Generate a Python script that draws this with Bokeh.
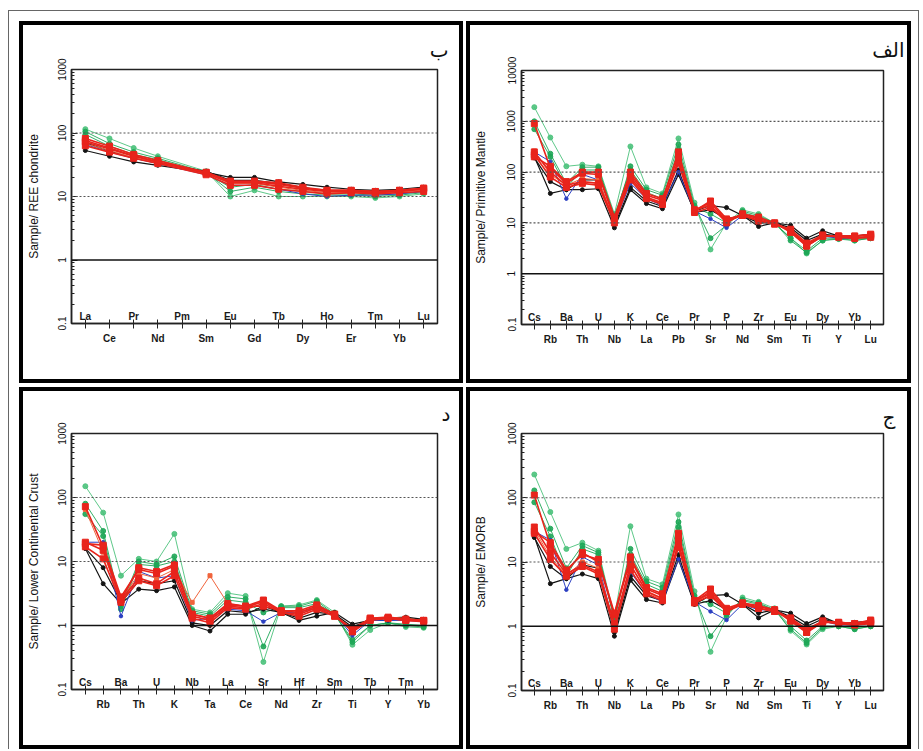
from bokeh.plotting import figure
from bokeh.layouts import row, column
from bokeh.models import FixedTicker, Span, LabelSet, ColumnDataSource, Range1d
from bokeh.embed import file_html
from bokeh.resources import INLINE
from bokeh.core.properties import value

# ---------------- categories ----------------
ree_elements = ["La", "Ce", "Pr", "Nd", "Pm", "Sm", "Eu", "Gd", "Tb", "Dy", "Ho", "Er", "Tm", "Yb", "Lu"]
ree_measured = ["La", "Ce", "Pr", "Nd", "Sm", "Eu", "Gd", "Tb", "Dy", "Ho", "Er", "Tm", "Yb", "Lu"]
pm_elements = ["Cs", "Rb", "Ba", "Th", "U", "Nb", "K", "La", "Ce", "Pb", "Pr", "Sr", "P", "Nd", "Zr",
               "Sm", "Eu", "Ti", "Dy", "Y", "Yb", "Lu"]
lcc_elements = ["Cs", "Rb", "Ba", "Th", "U", "K", "Nb", "Ta", "La", "Ce", "Sr", "Nd", "Hf", "Zr", "Sm",
                "Ti", "Tb", "Y", "Tm", "Yb"]
emorb_elements = ["Cs", "Rb", "Ba", "Th", "U", "Nb", "K", "La", "Ce", "Pb", "Pr", "Sr", "P", "Nd", "Zr",
                  "Sm", "Eu", "Ti", "Dy", "Y", "Yb", "Lu"]

# ---------------- REE / chondrite (ب) ----------------
ree_green_1 = [115, 82, 58, 43, 25, 10, 12.5, 10, 10, 10, 10, 9.5, 10, 11]
ree_green_2 = [105, 68, 50, 40, 24, 12, 14, 12, 11, 10.5, 10.5, 10, 10.5, 11.5]
ree_green_3 = [95, 62, 46, 38, 23, 14, 15.5, 13, 12, 11, 11, 10.5, 11, 12]
ree_black_1 = [53, 43, 35, 31, 24, 20, 20, 17, 15.5, 14, 13, 12.5, 13, 14]
ree_black_2 = [70, 52, 40, 34, 25, 18, 18, 16, 14, 12, 12, 12, 12.5, 13]
ree_blue = [66, 50, 40, 33, 22, 15, 15, 13, 11, 10, 10.5, 10.5, 11, 12]
ree_orange = [68, 53, 41, 34, 23, 16, 16, 14, 12.5, 11.5, 11.5, 11.5, 12, 12.5]
ree_red_1 = [82, 62, 46, 37, 24, 17, 17, 15.5, 13.5, 12.5, 12.5, 12, 12.5, 13.5]
ree_red_2 = [72, 56, 43, 35, 23, 16.5, 16.5, 14.5, 13, 12, 12, 11.5, 12, 13]
ree_red_3 = [63, 50, 40, 33, 22, 15, 15, 13, 12, 11, 11.5, 11, 11.5, 12]
ree_red_4 = [76, 58, 44, 35, 24, 17.5, 17.5, 16.5, 14, 12.5, 12.5, 12, 12.5, 13.5]

# ---------------- Primitive mantle (الف) ----------------
pm_green_1 = [1900, 480, 130, 140, 130, 15, 320, 50, 38, 460, 25, 3, 10, 18, 15, 10, 5, 2.5, 4.5, 5, 4.5, 5]
pm_green_2 = [1000, 230, 60, 125, 125, 12, 130, 45, 35, 350, 22, 5, 9, 17, 14, 10, 4.5, 2.6, 4.5, 4.8, 4.5, 5]
pm_green_3 = [700, 200, 50, 110, 110, 14, 110, 40, 30, 280, 20, 15, 10, 16, 13, 10, 5, 2.8, 5, 5, 4.8, 5]
pm_black_1 = [200, 38, 45, 45, 47, 8, 45, 24, 19, 90, 17, 22, 20, 14, 8.5, 10, 9, 5, 7, 5.5, 5.5, 6]
pm_black_2 = [190, 65, 45, 70, 70, 9, 50, 27, 21, 110, 16, 18, 12, 14, 10, 10, 8, 4.5, 6, 5.5, 5.5, 5.8]
pm_blue = [250, 160, 30, 90, 70, 10, 60, 30, 22, 100, 17, 12, 8, 14, 11, 10, 7, 3.5, 5.5, 5, 5, 5.5]
pm_orange = [260, 90, 55, 75, 70, 11, 75, 31, 24, 160, 17, 24, 11, 14, 11.5, 9.5, 7, 3.7, 5.6, 5.3, 5.1, 5.4]
pm_red_1 = [900, 120, 60, 95, 90, 12, 90, 35, 28, 250, 18, 25, 11, 15, 12, 10, 7, 3.5, 5.5, 5.5, 5.5, 5.8]
pm_red_2 = [250, 100, 55, 65, 60, 11, 80, 32, 25, 170, 17, 27, 12, 14, 11, 9.5, 7, 3.8, 5.5, 5.5, 5, 5.5]
pm_red_3 = [220, 80, 50, 60, 55, 10, 70, 30, 23, 150, 16, 20, 11, 14, 11, 9.5, 7.5, 4, 5.8, 5.2, 5, 5.2]
pm_red_4 = [200, 130, 65, 100, 100, 13, 100, 38, 30, 200, 18, 22, 10, 15, 13, 10, 6.5, 3.5, 5.5, 5.5, 5.5, 6]

# ---------------- Lower continental crust (د) ----------------
lcc_green_1 = [150, 58, 6, 11, 10, 27, 1.8, 1.6, 3.2, 2.9, 0.27, 2.0, 2.1, 2.5, 1.6, 0.5, 0.85, 1.1, 0.95, 0.92]
lcc_green_2 = [80, 30, 2.0, 10, 9, 12, 1.7, 1.5, 2.8, 2.6, 0.47, 2.0, 2.0, 2.4, 1.5, 0.55, 1.0, 1.1, 1.0, 0.95]
lcc_green_3 = [55, 25, 1.8, 9, 8.5, 10, 1.6, 1.4, 2.5, 2.3, 1.6, 1.9, 1.9, 2.2, 1.5, 0.6, 1.0, 1.1, 1.05, 1.0]
lcc_black_1 = [16, 4.5, 2.2, 3.7, 3.5, 4, 1.0, 0.82, 1.5, 1.5, 2.0, 1.6, 1.2, 1.4, 1.6, 1.05, 1.2, 1.3, 1.35, 1.25]
lcc_black_2 = [16, 8, 2.3, 5, 4.5, 5, 1.1, 1.0, 1.7, 1.6, 1.8, 1.6, 1.3, 1.6, 1.5, 0.95, 1.2, 1.2, 1.3, 1.2]
lcc_blue = [20, 20, 1.4, 7, 5.5, 6, 1.2, 1.3, 1.8, 1.7, 1.15, 1.6, 1.6, 1.9, 1.5, 0.7, 1.2, 1.2, 1.2, 1.15]
lcc_orange = [65, 14, 2.4, 6.5, 5.5, 7.5, 2.3, 6.0, 2.2, 2.0, 2.3, 1.7, 1.6, 2.0, 1.5, 0.8, 1.3, 1.35, 1.3, 1.2]
lcc_red_1 = [72, 17, 2.5, 8, 7, 9, 1.5, 1.3, 2.2, 2.0, 2.5, 1.7, 1.6, 2.0, 1.5, 0.8, 1.3, 1.35, 1.25, 1.2]
lcc_red_2 = [20, 15, 2.5, 5.5, 4.5, 7, 1.4, 1.2, 2.0, 1.9, 2.4, 1.6, 1.5, 1.9, 1.4, 0.85, 1.3, 1.3, 1.25, 1.2]
lcc_red_3 = [17, 11, 2.3, 5, 4.2, 6, 1.3, 1.1, 1.9, 1.8, 2.2, 1.6, 1.4, 1.8, 1.4, 0.9, 1.25, 1.3, 1.2, 1.15]
lcc_red_4 = [19, 18, 2.8, 7.5, 6.5, 8.5, 1.5, 1.3, 2.1, 2.0, 2.0, 1.7, 1.7, 2.1, 1.5, 0.8, 1.2, 1.3, 1.2, 1.2]

# ---------------- E-MORB (ج) ----------------
emorb_green_1 = [230, 60, 16, 20, 15, 1.4, 36, 5.5, 4.5, 55, 3.5, 0.4, 1.4, 2.8, 2.4, 1.9, 0.85, 0.52, 0.9, 1.0, 0.9, 1.0]
emorb_green_2 = [130, 33, 8, 18, 14, 1.2, 16, 5, 4, 42, 3, 0.7, 1.5, 2.6, 2.3, 1.8, 0.9, 0.55, 0.95, 1.0, 0.9, 1.0]
emorb_green_3 = [85, 25, 6, 16, 13, 1.3, 13, 4.5, 3.5, 35, 2.8, 2.2, 1.6, 2.5, 2.2, 1.8, 1.0, 0.6, 1.0, 1.0, 0.95, 1.0]
emorb_black_1 = [25, 4.6, 5.5, 6.5, 5.5, 0.7, 5.2, 2.6, 2.3, 11, 2.2, 3.0, 3.1, 2.2, 1.35, 1.8, 1.6, 1.1, 1.4, 1.1, 1.15, 1.2]
emorb_black_2 = [24, 8.5, 5.5, 9, 8, 0.8, 6, 3, 2.5, 13, 2.2, 2.5, 1.8, 2.2, 1.6, 1.8, 1.4, 1.0, 1.3, 1.1, 1.1, 1.15]
emorb_blue = [30, 22, 3.7, 12, 9, 1.0, 7, 3.2, 2.4, 11, 2.4, 1.7, 1.25, 2.2, 1.8, 1.8, 1.3, 0.8, 1.2, 1.05, 1.05, 1.15]
emorb_orange = [32, 12, 6.2, 10, 8, 1.0, 9, 3.4, 2.6, 19, 2.3, 3.3, 1.8, 2.2, 1.9, 1.7, 1.3, 0.85, 1.2, 1.1, 1.05, 1.1]
emorb_red_1 = [110, 18, 7, 14, 10, 1.5, 11, 3.8, 3, 28, 2.5, 3.8, 1.9, 2.3, 2.0, 1.8, 1.3, 0.8, 1.2, 1.15, 1.1, 1.2]
emorb_red_2 = [35, 14, 6.5, 9, 7, 1.1, 9, 3.5, 2.7, 20, 2.4, 3.5, 1.8, 2.2, 1.9, 1.7, 1.3, 0.85, 1.2, 1.1, 1.05, 1.15]
emorb_red_3 = [28, 11, 6, 8.5, 6.5, 0.9, 7.5, 3.2, 2.5, 17, 2.3, 3, 1.7, 2.2, 1.9, 1.7, 1.35, 0.9, 1.2, 1.1, 1.05, 1.1]
emorb_red_4 = [30, 20, 7.5, 13, 11, 1.6, 12, 4, 3.2, 25, 2.5, 3.2, 1.7, 2.3, 2.1, 1.8, 1.2, 0.8, 1.15, 1.15, 1.1, 1.25]

# ---------------- styles ----------------
STYLE = {
    "lightgreen": dict(color="#4cc27c", marker="circle", size=5, lw=1.0, alpha=0.9),
    "green": dict(color="#1ea657", marker="circle", size=5, lw=1.0, alpha=0.9),
    "black": dict(color="#141414", marker="circle", size=4, lw=1.2, alpha=1.0),
    "blue": dict(color="#2b3fc2", marker="circle", size=3.5, lw=1.0, alpha=1.0),
    "orange": dict(color="#f0643c", marker="square", size=4, lw=1.0, alpha=1.0),
    "red": dict(color="#e8241c", marker="square", size=6, lw=1.6, alpha=1.0),
}
FONT = "Liberation Sans"


def make_panel(elements, series, y_end, width, height, borders, pad_l, pad_r,
               ylabel, label_standoff, title_text, title_offset, title_standoff, dotted):
    n = len(elements)
    left, right, top, bottom = borders
    p = figure(width=width, height=height, y_axis_type="log",
               x_range=Range1d(-pad_l, n - 1 + pad_r), y_range=Range1d(0.1, y_end),
               output_backend="svg", toolbar_location=None,
               min_border_left=left, min_border_right=right,
               min_border_top=top, min_border_bottom=bottom,
               background_fill_color="white", border_fill_color="white")
    p.xgrid.visible = False
    p.ygrid.visible = False
    p.outline_line_color = "#222"
    p.outline_line_width = 1.5

    p.title.text = title_text
    p.title.align = "right"
    p.title.offset = title_offset
    p.title.standoff = title_standoff
    p.title.text_font = "DejaVu Sans"
    p.title.text_font_size = "20px"
    p.title.text_font_style = "normal"
    p.title.text_color = "#111"

    for v in dotted:
        p.add_layout(Span(location=v, dimension="width", line_color="#555",
                          line_dash="2 2", line_width=1.2))
    p.add_layout(Span(location=1, dimension="width", line_color="#111", line_width=1.6))

    for style_name, elems, vals in series:
        st = STYLE[style_name]
        xs = [elements.index(e) for e in elems]
        p.line(xs, vals, line_color=st["color"], line_width=st["lw"], line_alpha=st["alpha"])
        p.scatter(xs, vals, marker=st["marker"], size=st["size"], fill_color=st["color"],
                  line_color=st["color"], alpha=st["alpha"])

    # x axis: odd elements below, even elements inside above the axis
    xa = p.xaxis[0]
    xa.ticker = FixedTicker(ticks=list(range(n)))
    xa.major_label_overrides = {i: (e if i % 2 == 1 else "") for i, e in enumerate(elements)}
    xa.major_tick_in = 4
    xa.major_tick_out = 5
    xa.minor_tick_line_color = None
    xa.major_label_standoff = 4
    xa.major_label_text_font = FONT
    xa.major_label_text_font_size = "10px"
    xa.major_label_text_font_style = "bold"
    xa.major_label_text_color = "#1a1a1a"
    xa.axis_line_width = 1.5
    xa.axis_line_color = "#222"
    xa.major_tick_line_color = "#222"

    inner = ColumnDataSource(dict(
        x=[i for i in range(n) if i % 2 == 0],
        y=[0.1 for i in range(n) if i % 2 == 0],
        t=[e for i, e in enumerate(elements) if i % 2 == 0]))
    p.add_layout(LabelSet(x="x", y="y", text="t", source=inner, y_offset=2,
                          text_align="center", text_baseline="bottom",
                          text_font=value(FONT), text_font_size="10px",
                          text_font_style="bold", text_color="#1a1a1a"))

    # y axis
    decades = []
    d = 0.1
    while d <= y_end * 1.0001:
        decades.append(d)
        d *= 10
    minors = [k * dd for dd in decades[:-1] for k in range(2, 10)]
    ya = p.yaxis[0]
    ya.ticker = FixedTicker(ticks=decades, minor_ticks=minors)
    ya.major_label_overrides = {dd: ("%g" % dd) for dd in decades}
    ya.major_label_orientation = "vertical"
    ya.major_tick_in = 6
    ya.major_tick_out = 0
    ya.minor_tick_in = 3
    ya.minor_tick_out = 0
    ya.major_label_standoff = 6
    ya.major_label_text_font = FONT
    ya.major_label_text_font_size = "10px"
    ya.major_label_text_color = "#111"
    ya.axis_line_width = 1.5
    ya.axis_line_color = "#222"
    ya.major_tick_line_color = "#222"
    ya.minor_tick_line_color = "#222"
    ya.axis_label = ylabel
    ya.axis_label_text_font = FONT
    ya.axis_label_text_font_style = "normal"
    ya.axis_label_text_font_size = "12px"
    ya.axis_label_text_color = "#111"
    ya.axis_label_standoff = label_standoff

    return column(p, styles={"border": "4px solid #000", "background-color": "white"})


ree_series = [("lightgreen", ree_measured, ree_green_1), ("green", ree_measured, ree_green_2),
              ("green", ree_measured, ree_green_3), ("black", ree_measured, ree_black_1),
              ("black", ree_measured, ree_black_2), ("blue", ree_measured, ree_blue),
              ("orange", ree_measured, ree_orange), ("red", ree_measured, ree_red_1),
              ("red", ree_measured, ree_red_2), ("red", ree_measured, ree_red_3),
              ("red", ree_measured, ree_red_4)]
pm_series = [("lightgreen", pm_elements, pm_green_1), ("green", pm_elements, pm_green_2),
             ("green", pm_elements, pm_green_3), ("black", pm_elements, pm_black_1),
             ("black", pm_elements, pm_black_2), ("blue", pm_elements, pm_blue),
             ("orange", pm_elements, pm_orange), ("red", pm_elements, pm_red_1),
             ("red", pm_elements, pm_red_2), ("red", pm_elements, pm_red_3),
             ("red", pm_elements, pm_red_4)]
lcc_series = [("lightgreen", lcc_elements, lcc_green_1), ("green", lcc_elements, lcc_green_2),
              ("green", lcc_elements, lcc_green_3), ("black", lcc_elements, lcc_black_1),
              ("black", lcc_elements, lcc_black_2), ("blue", lcc_elements, lcc_blue),
              ("orange", lcc_elements, lcc_orange), ("red", lcc_elements, lcc_red_1),
              ("red", lcc_elements, lcc_red_2), ("red", lcc_elements, lcc_red_3),
              ("red", lcc_elements, lcc_red_4)]
emorb_series = [("lightgreen", emorb_elements, emorb_green_1), ("green", emorb_elements, emorb_green_2),
                ("green", emorb_elements, emorb_green_3), ("black", emorb_elements, emorb_black_1),
                ("black", emorb_elements, emorb_black_2), ("blue", emorb_elements, emorb_blue),
                ("orange", emorb_elements, emorb_orange), ("red", emorb_elements, emorb_red_1),
                ("red", emorb_elements, emorb_red_2), ("red", emorb_elements, emorb_red_3),
                ("red", emorb_elements, emorb_red_4)]

panel_ree = make_panel(ree_elements, ree_series, 1000, 436, 354, (44, 22, 44, 56), 0.573, 0.573,
                       "Sample/ REE chondrite", 14, "ب", -11, 16, [10, 100])
panel_pm = make_panel(pm_elements, pm_series, 10000, 437, 354, (45, 24, 45, 55), 0.8, 0.8,
                      "Sample/ Primitive Mantle", 17, "الف", -21, 18, [10, 100, 1000])
panel_lcc = make_panel(lcc_elements, lcc_series, 1000, 436, 354, (44, 22, 42, 56), 0.778, 0.778,
                       "Sample/ Lower Continental Crust", 14, "د", -13, 16, [10, 100])
panel_emorb = make_panel(emorb_elements, emorb_series, 1000, 437, 354, (45, 24, 42, 55), 0.8, 0.8,
                         "Sample/ EMORB", 17, "ج", -12, 9, [10, 100])

layout = column(row(panel_ree, panel_pm, spacing=3), row(panel_lcc, panel_emorb, spacing=3),
                spacing=4, margin=(10, 0, 0, 8),
                styles={"border": "1px solid #666", "border-bottom": "none",
                        "padding": "10px 7px 0px 10px", "background-color": "white"})

open("out.html", "w").write(file_html(layout, INLINE))
